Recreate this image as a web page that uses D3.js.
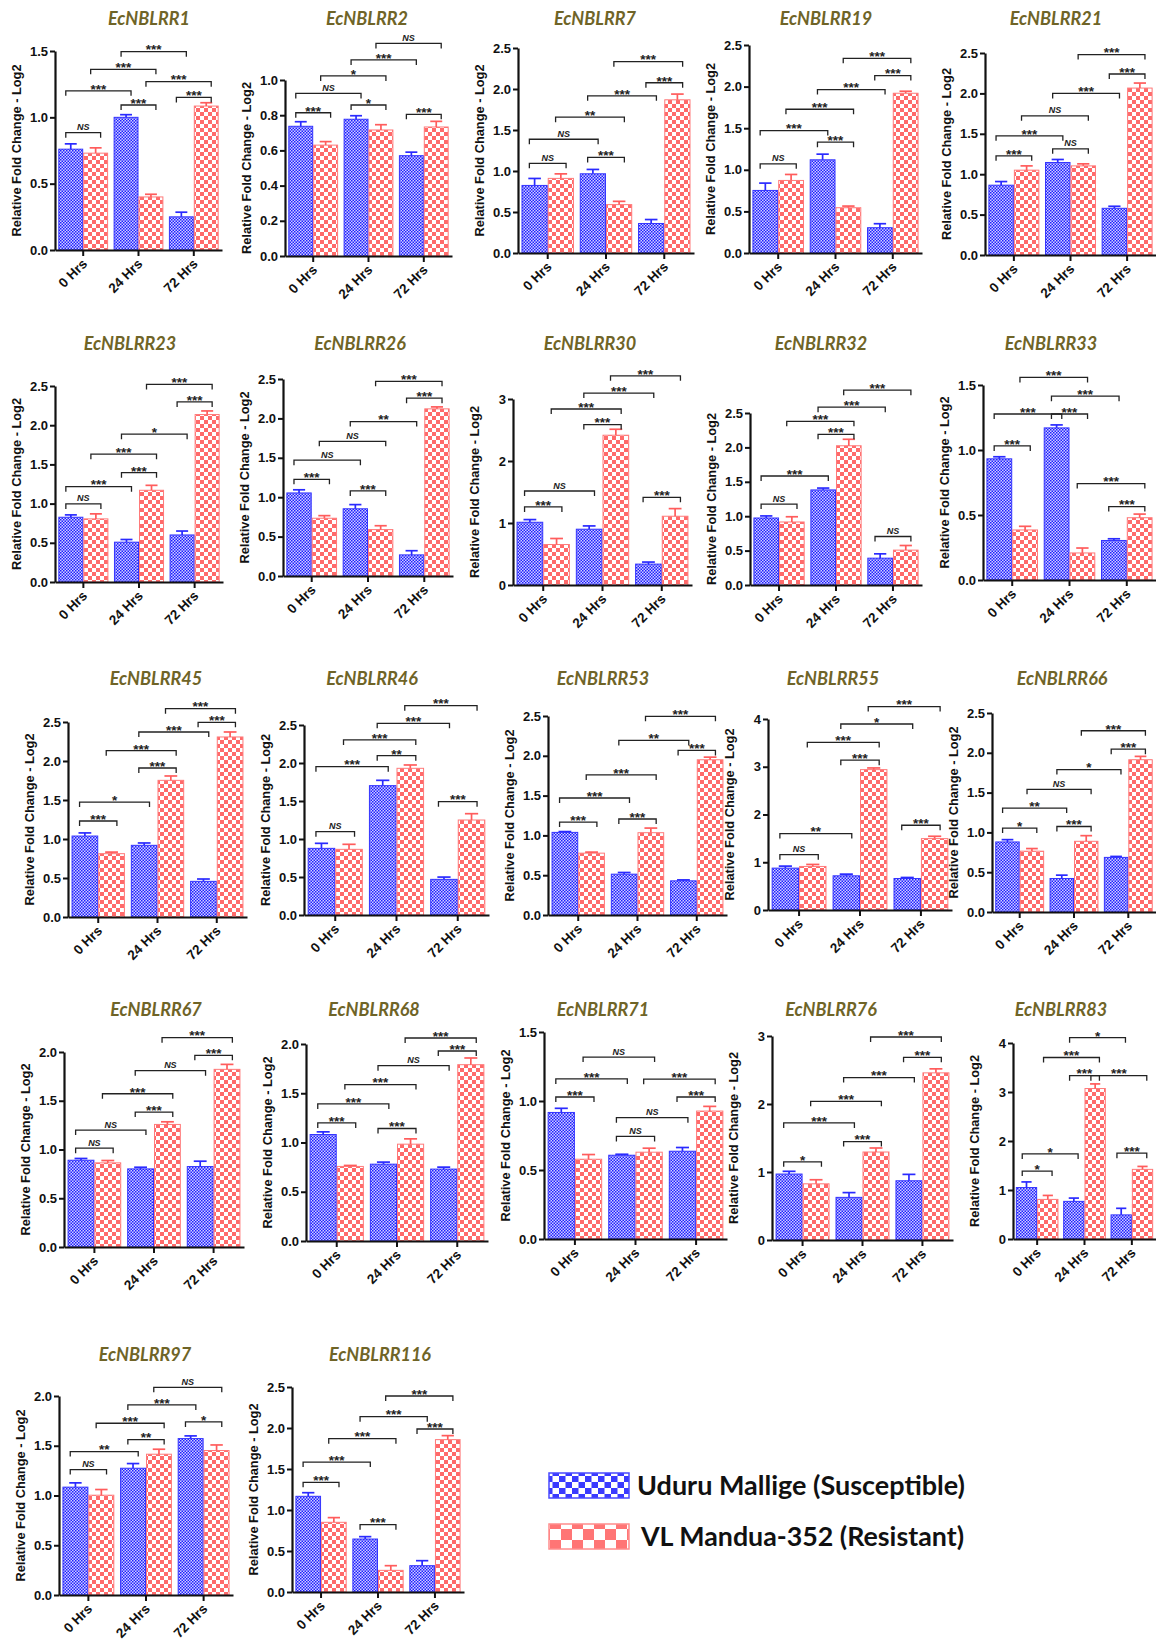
<!DOCTYPE html>
<html>
<head>
<meta charset="utf-8">
<script src="https://d3js.org/d3.v7.min.js"></script>
<style>
body { margin: 0; background: #fff; }
svg text { font-family: "Liberation Sans", Arial, sans-serif; }
</style>
</head>
<body>
<svg id="fig" width="1156" height="1643"></svg>
<script>
// ---- data ----
const genes = ["EcNBLRR1","EcNBLRR2","EcNBLRR7","EcNBLRR19","EcNBLRR21",
               "EcNBLRR23","EcNBLRR26","EcNBLRR30","EcNBLRR32","EcNBLRR33",
               "EcNBLRR45","EcNBLRR46","EcNBLRR53","EcNBLRR55","EcNBLRR66",
               "EcNBLRR67","EcNBLRR68","EcNBLRR71","EcNBLRR76","EcNBLRR83",
               "EcNBLRR97","EcNBLRR116"];
const timepoints = ["0 Hrs","24 Hrs","72 Hrs"];
const cultivars = ["Uduru Mallige (Susceptible)","VL Mandua-352 (Resistant)"];

// susceptible (blue) means at 0, 24, 72 h
const susMean = [
  [0.76,1.00,0.25],[0.737,0.777,0.57],[0.824,0.966,0.36],[0.752,1.12,0.304],[0.864,1.145,0.578],
  [0.826,0.508,0.60],[1.054,0.853,0.268],[1.012,0.90,0.337],[0.974,1.382,0.39],[0.932,1.17,0.304],
  [1.038,0.919,0.457],[0.877,1.702,0.469],[1.038,0.513,0.429],[0.877,0.716,0.66],[0.88,0.421,0.686],
  [0.89,0.801,0.825],[1.081,0.78,0.73],[0.917,0.607,0.636],[0.97,0.627,0.871],[1.05,0.768,0.492],
  [1.084,1.274,1.572],[1.167,0.646,0.321]
];
const susErr = [
  [0.04,0.02,0.035],[0.026,0.02,0.02],[0.085,0.053,0.048],[0.088,0.068,0.048],[0.045,0.037,0.025],
  [0.03,0.034,0.05],[0.04,0.053,0.053],[0.043,0.053,0.033],[0.03,0.027,0.063],[0.016,0.023,0.013],
  [0.04,0.03,0.03],[0.066,0.07,0.03],[0.01,0.021,0.012],[0.042,0.035,0.021],[0.029,0.042,0.012],
  [0.018,0.017,0.055],[0.027,0.021,0.02],[0.03,0.007,0.027],[0.04,0.07,0.094],[0.115,0.067,0.134],
  [0.043,0.047,0.027],[0.044,0.029,0.061]
];
// resistant (red) means at 0, 24, 72 h
const resMean = [
  [0.73,0.40,1.085],[0.63,0.716,0.733],[0.91,0.59,1.868],[0.872,0.544,1.92],[1.05,1.103,2.066],
  [0.805,1.17,2.136],[0.733,0.589,2.121],[0.653,2.416,1.109],[0.916,2.024,0.507],[0.385,0.208,0.479],
  [0.812,1.752,2.308],[0.864,1.93,1.25],[0.777,1.034,1.95],[0.912,2.94,1.495],[0.764,0.888,1.913],
  [0.863,1.257,1.822],[0.757,0.983,1.79],[0.578,0.629,0.927],[0.826,1.294,2.458],[0.808,3.071,1.421],
  [1.003,1.415,1.452],[0.85,0.264,1.858]
];
const resErr = [
  [0.04,0.02,0.025],[0.02,0.03,0.032],[0.055,0.04,0.07],[0.072,0.02,0.024],[0.053,0.025,0.062],
  [0.064,0.063,0.046],[0.033,0.049,0.025],[0.097,0.096,0.123],[0.076,0.094,0.067],[0.028,0.038,0.028],
  [0.02,0.056,0.064],[0.066,0.044,0.083],[0.013,0.058,0.033],[0.042,0.035,0.049],[0.033,0.071,0.042],
  [0.024,0.027,0.051],[0.01,0.054,0.068],[0.034,0.029,0.034],[0.06,0.059,0.059],[0.081,0.094,0.06],
  [0.057,0.05,0.056],[0.057,0.057,0.049]
];
const t25 = [0,0.5,1,1.5,2,2.5], t20 = [0,0.5,1,1.5,2], t15 = [0,0.5,1,1.5];
const yTicks = [
  t15,[0,0.2,0.4,0.6,0.8,1.0],t25,t25,t25,
  t25,t25,[0,1,2,3],t25,t15,
  t25,t25,t25,[0,1,2,3,4],t25,
  t20,t20,t15,[0,1,2,3],[0,1,2,3,4],
  t20,t25
];
// significance brackets: [from bar, to bar, level, label]; bar = time*2 + cultivar
const brackets = [
  [[0,1,0.884,"NS"],[0,2,1.20,"***"],[2,3,1.093,"***"],[1,3,1.362,"***"],[2,4,1.495,"***"],[3,5,1.269,"***"],[4,5,1.15,"***"]],
  [[0,1,0.814,"***"],[0,2,0.924,"NS"],[2,3,0.858,"*"],[1,3,1.023,"*"],[2,4,1.114,"***"],[3,5,1.208,"NS"],[4,5,0.805,"***"]],
  [[0,1,1.093,"NS"],[0,2,1.387,"NS"],[2,3,1.166,"***"],[1,3,1.656,"**"],[2,4,1.917,"***"],[4,5,2.076,"***"],[3,5,2.333,"***"]],
  [[0,1,1.072,"NS"],[0,2,1.472,"***"],[2,3,1.332,"***"],[1,3,1.728,"***"],[2,4,1.964,"***"],[4,5,2.132,"***"],[3,5,2.34,"***"]],
  [[0,1,1.227,"***"],[0,2,1.475,"***"],[2,3,1.314,"NS"],[1,3,1.723,"NS"],[2,4,2.0,"***"],[4,5,2.24,"***"],[3,5,2.48,"***"]],
  [[0,1,0.996,"NS"],[0,2,1.216,"***"],[2,3,1.394,"***"],[1,3,1.631,"***"],[2,4,1.886,"*"],[4,5,2.297,"***"],[3,5,2.52,"***"]],
  [[0,1,1.227,"***"],[0,2,1.47,"NS"],[2,3,1.079,"***"],[1,3,1.709,"NS"],[2,4,1.96,"**"],[4,5,2.257,"***"],[3,5,2.471,"***"]],
  [[0,1,1.259,"***"],[0,2,1.516,"NS"],[2,3,2.587,"***"],[1,3,2.839,"***"],[2,4,3.096,"***"],[3,5,3.374,"***"],[4,5,1.414,"***"]],
  [[0,1,1.176,"NS"],[0,2,1.584,"***"],[2,3,2.19,"***"],[1,3,2.379,"***"],[2,4,2.585,"***"],[3,5,2.832,"***"],[4,5,0.705,"NS"]],
  [[0,1,1.031,"***"],[0,2,1.277,"***"],[2,3,1.277,"***"],[2,4,1.414,"***"],[1,3,1.558,"***"],[3,5,0.742,"***"],[4,5,0.565,"***"]],
  [[0,1,1.231,"***"],[0,2,1.474,"*"],[2,3,1.91,"***"],[1,3,2.132,"***"],[2,4,2.372,"***"],[4,5,2.496,"***"],[3,5,2.671,"***"]],
  [[0,1,1.096,"NS"],[0,2,1.952,"***"],[2,3,2.096,"**"],[1,3,2.303,"***"],[2,4,2.522,"***"],[4,5,1.491,"***"],[3,5,2.754,"***"]],
  [[0,1,1.168,"***"],[0,2,1.47,"***"],[2,3,1.206,"***"],[1,3,1.76,"***"],[2,4,2.193,"**"],[4,5,2.067,"***"],[3,5,2.496,"***"]],
  [[0,1,1.158,"NS"],[0,2,1.6,"**"],[2,3,3.137,"***"],[1,3,3.509,"***"],[2,4,3.895,"*"],[4,5,1.775,"***"],[3,5,4.26,"***"]],
  [[0,1,1.054,"*"],[0,2,1.306,"**"],[2,3,1.074,"***"],[1,3,1.541,"NS"],[2,4,1.789,"*"],[4,5,2.045,"***"],[3,5,2.277,"***"]],
  [[0,1,1.014,"NS"],[0,2,1.199,"NS"],[2,3,1.384,"***"],[1,3,1.572,"***"],[2,4,1.808,"NS"],[4,5,1.966,"***"],[3,5,2.147,"***"]],
  [[0,1,1.199,"***"],[0,2,1.392,"***"],[2,3,1.142,"***"],[1,3,1.588,"***"],[2,4,1.78,"NS"],[4,5,1.929,"***"],[3,5,2.061,"***"]],
  [[0,1,1.029,"***"],[0,2,1.16,"***"],[2,3,0.743,"NS"],[2,4,0.879,"NS"],[1,3,1.318,"NS"],[3,5,1.158,"***"],[4,5,1.029,"***"]],
  [[0,1,1.149,"*"],[0,2,1.721,"***"],[2,3,1.448,"***"],[1,3,2.04,"***"],[2,4,2.388,"***"],[4,5,2.687,"***"],[3,5,2.985,"***"]],
  [[0,1,1.387,"*"],[0,2,1.737,"*"],[2,3,3.333,"***"],[1,3,3.704,"***"],[2,4,4.108,"*"],[3,5,3.333,"***"],[4,5,1.751,"***"]],
  [[0,1,1.261,"NS"],[0,2,1.441,"**"],[2,3,1.562,"**"],[1,3,1.726,"***"],[2,4,1.91,"***"],[4,5,1.739,"*"],[3,5,2.087,"NS"]],
  [[0,1,1.337,"***"],[0,2,1.585,"***"],[2,3,0.821,"***"],[1,3,1.87,"***"],[2,4,2.138,"***"],[4,5,1.988,"***"],[3,5,2.39,"***"]]
];

// ---- panel frames: y-axis x, top tick y, zero y, x-axis end, title centre x, title y ----
const frames = [
  [55,51,250,222,149,19],[285,80,256,452,367,19],[518,48,253,694,595,19],[749,45,253,922,826,19],[985,53,255,1156,1056,19],
  [55,386,582,223,130,344],[283,379,576,453,360,344],[513,399,585,692,590,344],[750,413,585,922,821,344],[983,385,580,1156,1051,344],
  [68,722,917,247,156,679],[304,725,915,489,372,679],[548,716,915,727,603,679],[768,719,910,952,833,679],[992,713,912,1156,1062,679],
  [64,1052,1247,244,156,1010],[306,1044,1241,488,374,1010],[544,1032,1239,727,603,1010],[772,1036,1240,953,831,1010],[1013,1043,1239,1156,1061,1010],
  [59,1396,1595,233,145,1355],[292,1387,1592,464,380,1355]
];

const svg = d3.select("#fig");
const defs = svg.append("defs");

function checker(id, w, h, c1, c2) {
  const p = defs.append("pattern").attr("id", id)
    .attr("patternUnits", "userSpaceOnUse")
    .attr("width", w * 2).attr("height", h * 2);
  p.append("rect").attr("width", w * 2).attr("height", h * 2).attr("fill", c2);
  p.append("rect").attr("width", w).attr("height", h).attr("fill", c1);
  p.append("rect").attr("x", w).attr("y", h).attr("width", w).attr("height", h).attr("fill", c1);
}
checker("pBlue", 1.5, 1.5, "#1f1fff", "#cfcfff");
checker("pRed", 4, 4, "#ff6a6a", "#ffffff");
checker("pBlueL", 6.5, 6, "#3a3aff", "#ffffff");
checker("pRedL", 11, 11, "#ff7575", "#ffffff");

const fills = ["url(#pBlue)", "url(#pRed)"];
const strokes = ["#3434ff", "#ff7a7a"];
const errCol = ["#2a2aff", "#ff5c5c"];

genes.forEach(function(gene, k) {
  const [ax, ty, zy, rx, tx, tty] = frames[k];
  const ticks = yTicks[k];
  const y = d3.scaleLinear().domain([0, d3.max(ticks)]).range([zy, ty]);
  const x0 = d3.scaleBand().domain(timepoints).range([ax, rx]).paddingInner(0.1).paddingOuter(0.06);
  const x1 = d3.scaleBand().domain([0, 1]).range([0, x0.bandwidth()]);
  const bw = x1.bandwidth();

  const bars = [];
  timepoints.forEach(function(t, i) {
    bars.push({t: t, c: 0, v: susMean[k][i], e: susErr[k][i]});
    bars.push({t: t, c: 1, v: resMean[k][i], e: resErr[k][i]});
  });
  const cx = function(d) { return x0(d.t) + x1(d.c) + bw / 2; };

  const g = svg.append("g");

  // title
  g.append("text").attr("x", tx).attr("y", tty).attr("dy", "0.35em")
    .attr("text-anchor", "middle")
    .style("font-family", "Lato, 'Open Sans', sans-serif")
    .style("font-style", "italic").style("font-weight", "bold")
    .style("font-size", "18px").style("fill", "#6f6427")
    .text(gene);

  // bars
  g.selectAll("rect.bar").data(bars).enter().append("rect")
    .attr("class", "bar")
    .attr("x", function(d) { return x0(d.t) + x1(d.c) + 0.5; })
    .attr("y", function(d) { return y(d.v); })
    .attr("width", bw - 1)
    .attr("height", function(d) { return y(0) - y(d.v); })
    .attr("fill", function(d) { return fills[d.c]; })
    .attr("stroke", function(d) { return strokes[d.c]; })
    .attr("stroke-width", 1);

  // error bars (upper only)
  const eb = g.selectAll("g.err").data(bars).enter().append("g")
    .attr("stroke", function(d) { return errCol[d.c]; })
    .attr("stroke-width", 1.7);
  eb.append("line")
    .attr("x1", cx).attr("x2", cx)
    .attr("y1", function(d) { return y(d.v); })
    .attr("y2", function(d) { return y(d.v + d.e); });
  eb.append("line")
    .attr("x1", function(d) { return cx(d) - bw * 0.24; })
    .attr("x2", function(d) { return cx(d) + bw * 0.24; })
    .attr("y1", function(d) { return y(d.v + d.e); })
    .attr("y2", function(d) { return y(d.v + d.e); });

  // axes
  const intTicks = ticks.every(function(v) { return Number.isInteger(v); }) && ticks[1] === 1;
  const yAx = g.append("g").attr("transform", "translate(" + ax + ",0)")
    .call(d3.axisLeft(y).tickValues(ticks).tickSize(5).tickSizeOuter(0).tickPadding(2)
      .tickFormat(intTicks ? d3.format("d") : d3.format(".1f")));
  const xAx = g.append("g").attr("transform", "translate(0," + zy + ")")
    .call(d3.axisBottom(x0).tickSize(6).tickSizeOuter(0));
  [yAx, xAx].forEach(function(a) {
    a.select(".domain").attr("stroke", "#111").attr("stroke-width", 2.2);
    a.selectAll(".tick line").attr("stroke", "#111").attr("stroke-width", 2);
    a.selectAll("text").style("font-size", "13px").style("font-weight", "bold")
      .style("font-family", "'Liberation Sans', Arial, sans-serif").attr("fill", "#111");
  });
  xAx.selectAll(".tick text")
    .style("font-size", "13.5px")
    .attr("x", -7).attr("y", 9).attr("dy", "0.35em")
    .attr("transform", "rotate(-45)")
    .style("text-anchor", "end");

  // y label
  g.append("text")
    .attr("transform", "translate(" + (ax - 38) + "," + ((ty + zy) / 2) + ") rotate(-90)")
    .attr("text-anchor", "middle").attr("dy", "0.35em")
    .style("font-size", "12.8px").style("font-weight", "bold").attr("fill", "#111")
    .text("Relative Fold Change - Log2");

  // significance brackets
  const barX = function(i) { return cx(bars[i]); };
  brackets[k].forEach(function(b) {
    const xa = barX(b[0]) - bw * 0.2, xb = barX(b[1]) + bw * 0.2, yy = y(b[2]);
    g.append("path")
      .attr("d", "M" + xa + "," + (yy + 5) + "V" + yy + "H" + xb + "V" + (yy + 5))
      .attr("fill", "none").attr("stroke", "#222").attr("stroke-width", 1.3);
    const lab = g.append("text").attr("x", (xa + xb) / 2).attr("text-anchor", "middle")
      .attr("fill", "#222").style("font-weight", "bold").text(b[3]);
    if (b[3] === "NS") {
      lab.attr("y", yy - 2.5).style("font-size", "9px").style("font-style", "italic");
    } else {
      lab.attr("y", yy + 2.8).style("font-size", "13.5px");
    }
  });
});

// legend
const leg = svg.append("g");
const legFill = ["url(#pBlueL)", "url(#pRedL)"];
const legStroke = ["#4a4aff", "#ff8c8c"];
const legY = [1473, 1524];
const legTx = [637, 641];
cultivars.forEach(function(c, i) {
  leg.append("rect").attr("x", 549).attr("y", legY[i]).attr("width", 80).attr("height", 25)
    .attr("fill", legFill[i]).attr("stroke", legStroke[i]).attr("stroke-width", 1.5);
  leg.append("text").attr("x", legTx[i]).attr("y", legY[i] + 12.5).attr("dy", "0.36em")
    .style("font-family", "Lato, 'Open Sans', sans-serif")
    .style("font-weight", "bold").style("font-size", "26px").attr("fill", "#111")
    .attr("textLength", i === 0 ? 328 : 323).attr("lengthAdjust", "spacingAndGlyphs")
    .text(c);
});
</script>
</body>
</html>
